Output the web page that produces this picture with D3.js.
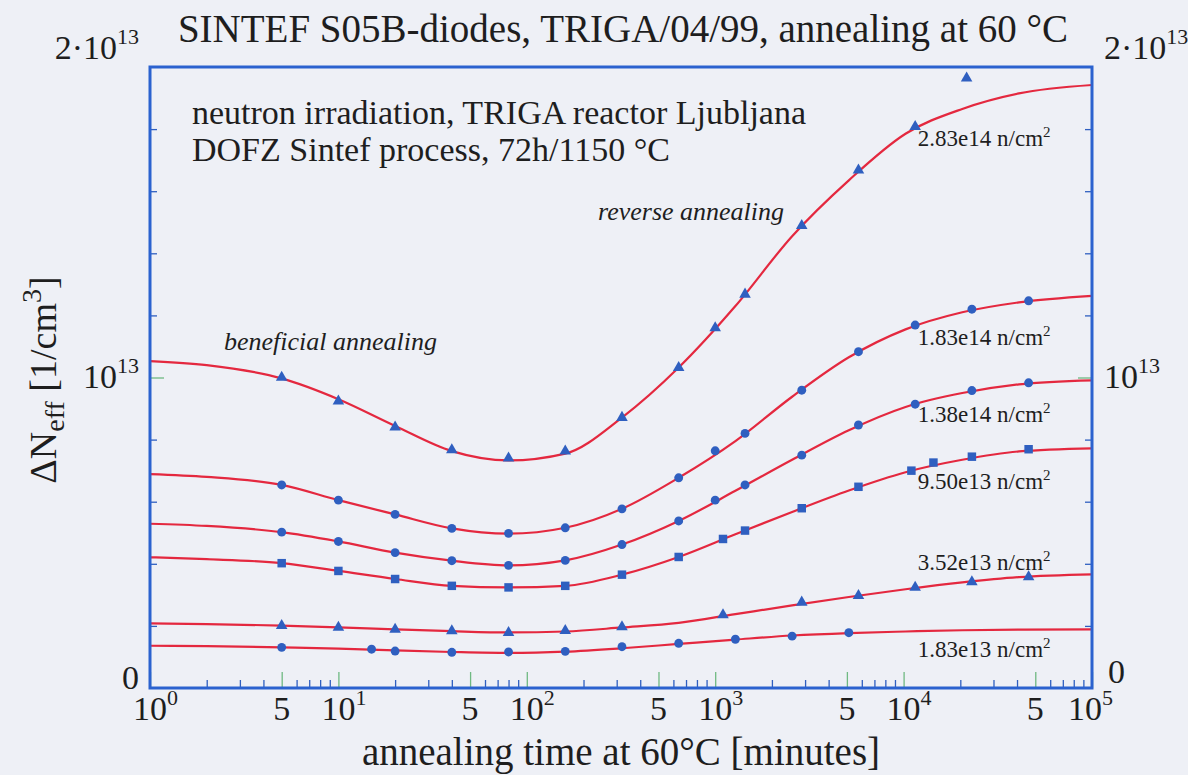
<!DOCTYPE html>
<html>
<head>
<meta charset="utf-8">
<script src="https://cdn.jsdelivr.net/npm/d3@7"></script>
<style>
    body { margin: 0; background: #eef0f6; }
    svg { display: block; }
</style>
</head>
<body>
<div id="annealing-graphic"></div>
<script>

// Series labels (fluence) and marker shape of every diode
const fluences = ['2.83e14', '1.83e14', '1.38e14', '9.50e13', '3.52e13', '1.83e13'];
const shapes = ['triangle', 'circle', 'circle', 'square', 'triangle', 'circle'];

// Measured points: [annealing time in minutes, delta Neff in 1e12 / cm3]
const pts283e14 = [[5, 10.0], [10, 9.24], [20, 8.40], [40, 7.67], [80, 7.40], [160, 7.63], [320, 8.71], [640, 10.32],
    [1000, 11.60], [1440, 12.68], [2880, 14.89], [5760, 16.68], [11520, 18.08], [21600, 19.64]];
const pts183e14 = [[5, 6.54], [10, 6.05], [20, 5.59], [40, 5.14], [80, 4.98], [160, 5.16], [320, 5.77], [640, 6.77],
    [1000, 7.64], [1440, 8.20], [2880, 9.59], [5760, 10.83], [11520, 11.69], [23040, 12.20], [46080, 12.47]];
const pts138e14 = [[5, 5.02], [10, 4.72], [20, 4.36], [40, 4.10], [80, 3.95], [160, 4.11], [320, 4.62], [640, 5.38],
    [1000, 6.05], [1440, 6.54], [2880, 7.50], [5760, 8.47], [11520, 9.14], [23040, 9.58], [46080, 9.83]];
const pts950e13 = [[5, 4.02], [10, 3.77], [20, 3.51], [40, 3.29], [80, 3.24], [160, 3.29], [320, 3.65], [640, 4.22],
    [1100, 4.80], [1440, 5.07], [2880, 5.79], [5760, 6.48], [11000, 7.00], [14400, 7.26], [23040, 7.45], [46080, 7.69]];
const pts352e13 = [[5, 2.01], [10, 1.95], [20, 1.89], [40, 1.84], [80, 1.78], [160, 1.85], [320, 1.97], [1100, 2.35],
    [2880, 2.76], [5760, 2.97], [11520, 3.24], [23040, 3.42], [46080, 3.58]];
const pts183e13 = [[5, 1.31], [15, 1.25], [20, 1.19], [40, 1.15], [80, 1.16], [160, 1.18], [320, 1.33], [640, 1.44],
    [1280, 1.57], [2560, 1.67], [5120, 1.78]];

// Fitted curves at these times
const fitTimes = [1, 2, 5, 10, 20, 40, 80, 160, 320, 640, 1280, 2560, 5120, 10240, 20480, 40960, 100000];
const fit283e14 = [10.53, 10.40, 9.97, 9.30, 8.44, 7.63, 7.33, 7.55, 8.71, 10.32, 12.3, 14.55, 16.35, 17.85, 18.65, 19.15, 19.42];
const fit183e14 = [6.89, 6.80, 6.54, 6.05, 5.59, 5.14, 4.97, 5.16, 5.77, 6.77, 7.95, 9.38, 10.65, 11.55, 12.1, 12.42, 12.63];
const fit138e14 = [5.29, 5.22, 5.02, 4.72, 4.36, 4.10, 3.95, 4.11, 4.62, 5.38, 6.35, 7.35, 8.3, 9.05, 9.5, 9.78, 9.91];
const fit950e13 = [4.21, 4.15, 4.02, 3.77, 3.51, 3.29, 3.24, 3.29, 3.65, 4.22, 4.95, 5.67, 6.36, 6.95, 7.35, 7.62, 7.72];
const fit352e13 = [2.08, 2.06, 2.01, 1.95, 1.89, 1.83, 1.79, 1.82, 1.95, 2.10, 2.38, 2.66, 2.93, 3.18, 3.40, 3.57, 3.66];
const fit183e13 = [1.36, 1.35, 1.31, 1.27, 1.21, 1.16, 1.13, 1.17, 1.28, 1.42, 1.56, 1.69, 1.77, 1.82, 1.86, 1.88, 1.89];

// Axis ticks
const xDecades = [1, 10, 100, 1000, 10000, 100000];
const xFives = [5, 50, 500, 5000, 50000];
const yTicks = [0, 10, 20];

const points = [pts283e14, pts183e14, pts138e14, pts950e13, pts352e13, pts183e13];
const fits = [fit283e14, fit183e14, fit138e14, fit950e13, fit352e13, fit183e13];

const width = 1188;
const height = 775;
const margin = { top: 67, right: 96, bottom: 87, left: 150 };

const blue = '#2b62cf';
const green = '#6fb982';
const red = '#e4283f';
const markBlue = '#2f5fc0';
const ink = '#1e1e1e';

const svg = d3
    .select('#annealing-graphic')
    .append('svg')
    .attr('width', width)
    .attr('height', height)
    .attr('font-family', 'Liberation Serif')
    .attr('fill', ink)
;

const x = d3
    .scaleLog()
    .domain([1, 1e5])
    .range([margin.left, width - margin.right])
;
const y = d3
    .scaleLinear()
    .domain([0, 20])
    .range([height - margin.bottom, margin.top])
;

// Minor ticks of the log axis (2..9 of each decade, without 5)
let xMinor = [];
for (const d of xDecades.slice(0, -1)) {
    for (let k = 2; k < 10; k++) {
        if (k !== 5) xMinor.push(d * k);
    };
};
const yMinor = d3.range(2, 20, 2).filter(v => v !== 10);

function styleAxis(g, color) {
    g.select('.domain').remove();
    g.selectAll('.tick line').attr('stroke', color).attr('stroke-width', 1.3);
};

// Bottom ticks, pointing into the plot
svg.append('g')
    .attr('transform', `translate(0, ${y(0)})`)
    .call(d3.axisBottom(x).tickValues(xMinor).tickSize(-8).tickFormat(''))
    .call(g => styleAxis(g, markBlue))
;
svg.append('g')
    .attr('transform', `translate(0, ${y(0)})`)
    .call(d3.axisBottom(x).tickValues(xDecades.concat(xFives)).tickSize(-16).tickFormat(''))
    .call(g => styleAxis(g, green))
;

// Left and right ticks
svg.append('g')
    .attr('transform', `translate(${x(1)}, 0)`)
    .call(d3.axisLeft(y).tickValues(yMinor).tickSize(-7).tickFormat(''))
    .call(g => styleAxis(g, markBlue))
;
svg.append('g')
    .attr('transform', `translate(${x(1)}, 0)`)
    .call(d3.axisLeft(y).tickValues([10]).tickSize(-14).tickFormat(''))
    .call(g => styleAxis(g, green))
;
svg.append('g')
    .attr('transform', `translate(${x(1e5)}, 0)`)
    .call(d3.axisRight(y).tickValues(yMinor).tickSize(-7).tickFormat(''))
    .call(g => styleAxis(g, markBlue))
;
svg.append('g')
    .attr('transform', `translate(${x(1e5)}, 0)`)
    .call(d3.axisRight(y).tickValues([10]).tickSize(-14).tickFormat(''))
    .call(g => styleAxis(g, green))
;

// Fitted curves
const line = d3
    .line()
    .x(d => x(d[0]))
    .y(d => y(d[1]))
    .curve(d3.curveMonotoneX)
;
fits.forEach(f => {
    svg.append('path')
        .datum(fitTimes.map((t, i) => [t, f[i]]))
        .attr('d', line)
        .attr('fill', 'none')
        .attr('stroke', red)
        .attr('stroke-width', 2.2)
    ;
});

// Measured points
const symbolTypes = { triangle: d3.symbolTriangle, circle: d3.symbolCircle, square: d3.symbolSquare };
const symbolSizes = { triangle: 58, circle: 62, square: 72 };
points.forEach((p, i) => {
    svg.append('g')
        .selectAll('path')
        .data(p)
        .enter()
        .append('path')
        .attr('d', d3.symbol().type(symbolTypes[shapes[i]]).size(symbolSizes[shapes[i]]))
        .attr('transform', d => `translate(${x(d[0])}, ${y(d[1])})`)
        .attr('fill', markBlue)
    ;
});

// Frame
svg.append('rect')
    .attr('x', x(1))
    .attr('y', y(20))
    .attr('width', x(1e5) - x(1))
    .attr('height', y(0) - y(20))
    .attr('fill', 'none')
    .attr('stroke', blue)
    .attr('stroke-width', 3)
;

// X tick labels (the last one is pushed left, as in the original)
const xLab = svg.append('g').attr('font-size', 34);
xDecades.forEach(d => {
    const t = xLab.append('text')
        .attr('x', x(d) - (d === 1e5 ? 24 : 17))
        .attr('y', 720)
    ;
    t.append('tspan').text('10');
    t.append('tspan').attr('font-size', 22).attr('dy', -15).text(Math.round(Math.log10(d)));
});
xFives.forEach(d => {
    xLab.append('text')
        .attr('x', x(d))
        .attr('y', 720)
        .attr('text-anchor', 'middle')
        .text('5')
    ;
});

// Y tick labels, both sides
const yLab = svg.append('g').attr('font-size', 34);
const yLabelText = { 0: ['0', ''], 10: ['10', '13'], 20: ['2·10', '13'] };
const yLabelDy = { 0: 1, 10: 10, 20: -8 };
yTicks.forEach(v => {
    const left = yLab.append('text')
        .attr('x', x(1) - 11)
        .attr('y', y(v) + yLabelDy[v])
        .attr('text-anchor', 'end')
    ;
    left.append('tspan').text(yLabelText[v][0]);
    left.append('tspan').attr('font-size', 22).attr('dy', -15).text(yLabelText[v][1]);

    const right = yLab.append('text')
        .attr('x', x(1e5) + (v === 0 ? 16 : 12))
        .attr('y', y(v) + (v === 0 ? -5 : yLabelDy[v]))
    ;
    right.append('tspan').text(yLabelText[v][0]);
    right.append('tspan').attr('font-size', 22).attr('dy', -15).text(yLabelText[v][1]);
});

// Series labels
const labelValues = [17.46, 11.05, 8.57, 6.41, 3.80, 1.0];
fluences.forEach((f, i) => {
    const t = svg.append('text')
        .attr('x', x(11900))
        .attr('y', y(labelValues[i]))
        .attr('font-size', 23)
    ;
    t.append('tspan').text(f + ' n/cm');
    t.append('tspan').attr('font-size', 15).attr('dy', -9).text('2');
});

// Title and annotations
svg.append('text')
    .attr('x', 623)
    .attr('y', 42)
    .attr('text-anchor', 'middle')
    .attr('font-size', 39)
    .text('SINTEF S05B-diodes, TRIGA/04/99, annealing at 60 °C')
;
svg.append('text')
    .attr('x', 192)
    .attr('y', 124)
    .attr('font-size', 34)
    .text('neutron irradiation, TRIGA reactor Ljubljana')
;
svg.append('text')
    .attr('x', 192)
    .attr('y', 161)
    .attr('font-size', 34)
    .text('DOFZ Sintef process, 72h/1150 °C')
;
svg.append('text')
    .attr('x', 598)
    .attr('y', 220)
    .attr('font-size', 26)
    .attr('font-style', 'italic')
    .text('reverse annealing')
;
svg.append('text')
    .attr('x', 224)
    .attr('y', 350)
    .attr('font-size', 26)
    .attr('font-style', 'italic')
    .text('beneficial annealing')
;

// Axis titles
svg.append('text')
    .attr('x', 621)
    .attr('y', 765)
    .attr('text-anchor', 'middle')
    .attr('font-size', 39)
    .text('annealing time at 60°C [minutes]')
;
const yTitle = svg.append('text')
    .attr('transform', 'translate(56, 380) rotate(-90)')
    .attr('text-anchor', 'middle')
    .attr('font-size', 38)
;
yTitle.append('tspan').text('ΔN');
yTitle.append('tspan').attr('font-size', 28).attr('dy', 8).text('eff');
yTitle.append('tspan').attr('dy', -8).text(' [1/cm');
yTitle.append('tspan').attr('font-size', 28).attr('dy', -15).text('3');
yTitle.append('tspan').attr('dy', 15).text(']');

</script>
</body>
</html>
